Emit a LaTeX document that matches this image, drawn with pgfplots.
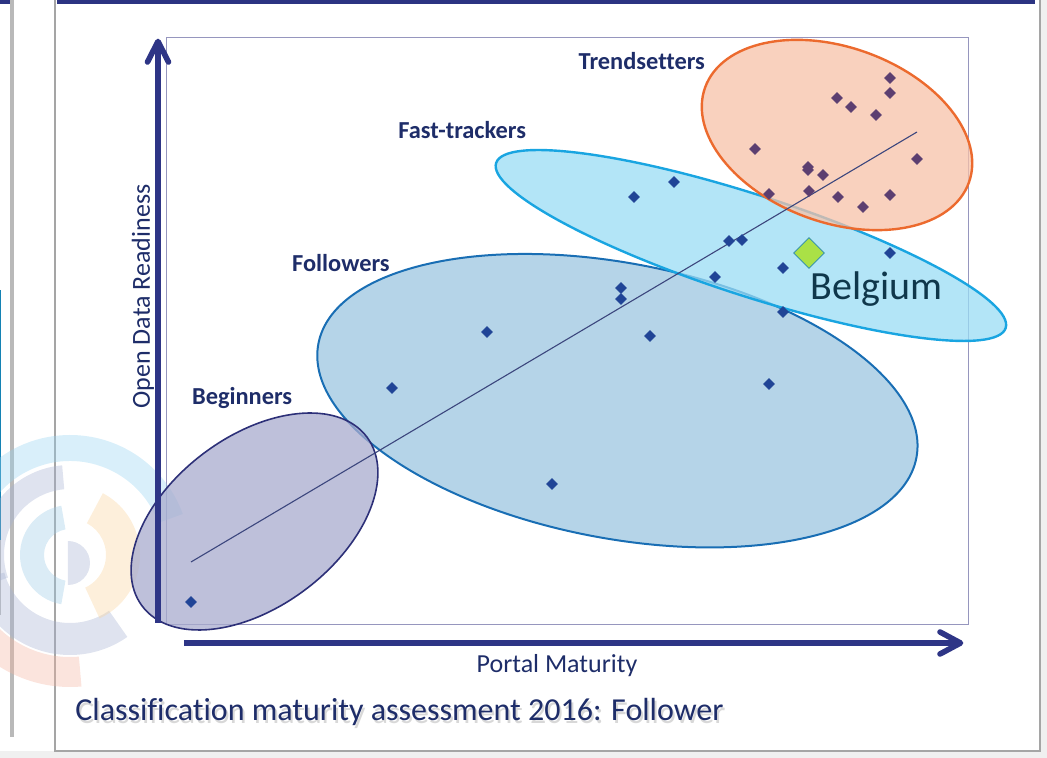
\documentclass[border=0pt]{standalone}
\usepackage{pgfplots}
\pgfplotsset{compat=1.18}
\usepackage{fontspec}
\setmainfont{Carlito}[RawFeature={-liga}]
\definecolor{navy}{RGB}{30,45,105}
\definecolor{arrowc}{RGB}{46,53,134}
\definecolor{boxc}{RGB}{150,150,190}
\definecolor{ptblue}{RGB}{32,68,150}
\definecolor{ptpurple}{RGB}{92,62,112}
\definecolor{begfill}{RGB}{168,171,206}
\definecolor{begedge}{RGB}{45,48,120}
\definecolor{folfill}{RGB}{156,198,224}
\definecolor{foledge}{RGB}{25,110,180}
\definecolor{fastfill}{RGB}{154,220,244}
\definecolor{fastedge}{RGB}{25,165,225}
\definecolor{trendfill}{RGB}{247,194,168}
\definecolor{trendedge}{RGB}{236,106,46}
\definecolor{regline}{RGB}{60,70,125}
\definecolor{belg}{RGB}{170,225,70}
\definecolor{belgedge}{RGB}{60,150,170}
\definecolor{belgtext}{RGB}{15,55,75}
\definecolor{topbar}{RGB}{44,52,130}
\definecolor{framec}{RGB}{165,165,165}
\definecolor{tealc}{RGB}{20,130,180}
\definecolor{lgblue}{RGB}{150,212,240}
\definecolor{lggray}{RGB}{165,178,210}
\definecolor{lgorange}{RGB}{250,212,155}
\definecolor{lgsalmon}{RGB}{245,180,160}
\begin{document}
\begin{tikzpicture}
\begin{axis}[
  x=0.5pt, y=0.5pt,
  xmin=0, xmax=801, ymin=0, ymax=587,
  axis line style={draw=boxc, line width=0.5pt},
  ticks=none,
  clip=false,
]
% ---- slide frame ----
\fill[gray!12] (873,-133) rectangle (880,625);
\fill[gray!12] (-167,-133) rectangle (880,-126);
\draw[framec, line width=1pt] (-112,630) -- (-112,-126) -- (873,-126) -- (873,630);
\draw[gray!55, line width=1.6pt] (-155,625) -- (-155,-112);
\fill[topbar] (-110,620.5) rectangle (868,626);
\fill[topbar] (-167,620.5) rectangle (-157,626);
\fill[tealc] (-167,85) rectangle (-165.5,335);
\draw[gray!50, line width=0.6pt] (-166.3,85) -- (-166.3,10);
% ---- faded logo ----
\begin{scope}[shift={(axis cs:-97,70)}, opacity=0.36]
  \fill[lgblue] (20:47pt) arc[start angle=20, end angle=185, radius=47pt] -- (185:60pt) arc[start angle=185, end angle=20, radius=60pt] -- cycle;
  \fill[lggray] (95:33pt) arc[start angle=95, end angle=200, radius=33pt] -- (200:45pt) arc[start angle=200, end angle=95, radius=45pt] -- cycle;
  \fill[lggray] (195:34pt) arc[start angle=195, end angle=305, radius=34pt] -- (305:50pt) arc[start angle=305, end angle=195, radius=50pt] -- cycle;
  \fill[lgsalmon] (205:51pt) arc[start angle=205, end angle=275, radius=51pt] -- (275:66pt) arc[start angle=275, end angle=205, radius=66pt] -- cycle;
  \fill[lgorange] (-65:18pt) arc[start angle=-65, end angle=62, radius=18pt] -- (62:35pt) arc[start angle=62, end angle=-65, radius=35pt] -- cycle;
  \fill[lgblue!70!lggray] (100:13pt) arc[start angle=100, end angle=260, radius=13pt] -- (260:25pt) arc[start angle=260, end angle=100, radius=25pt] -- cycle;
  \fill[lggray] (-1pt,-15pt) arc[start angle=-90, end angle=90, radius=11pt] -- cycle;
\end{scope}
% ---- cluster ellipses ----
\draw[foledge, line width=1pt, fill=folfill, fill opacity=0.75, rotate around={-10.8:(axis cs:450.4,224.3)}] (450.4,224.3) ellipse[x radius=152.2pt, y radius=68.8pt];
\draw[begedge, line width=0.8pt, fill=begfill, fill opacity=0.75, rotate around={37:(axis cs:87.5,103.5)}] (87.5,103.5) ellipse[x radius=70.3pt, y radius=42.5pt];
\draw[fastedge, line width=1.2pt, fill=fastfill, fill opacity=0.75, rotate around={-17.95:(axis cs:583.9,379.5)}] (583.9,379.5) ellipse[x radius=133.9pt, y radius=25.2pt];
\draw[trendedge, line width=1.2pt, fill=trendfill, fill opacity=0.75, rotate around={-19.8:(axis cs:670,490)}] (670,490) ellipse[x radius=70.1pt, y radius=43.8pt];
% ---- trend line ----
\addplot[regline, line width=0.55pt, no marks] coordinates {(24,63) (750,493)};
% ---- Trendsetters ----
\addplot[only marks, mark=square*, mark size=1.85pt, mark options={rotate=45, fill=ptpurple, draw=ptpurple}] coordinates {
(723,547) (723,532) (670,527) (684,518) (709,510) (588,476) (750,466)
(641,458) (641,455) (656,450) (602,431) (642,434) (671,428) (696,418) (723,430)};
% ---- Fast-trackers ----
\addplot[only marks, mark=square*, mark size=1.85pt, mark options={rotate=45, fill=ptblue, draw=ptblue}] coordinates {
(507,443) (467,428) (562,384) (575,385) (616,357) (723,372) (548,348)};
% ---- Followers ----
\addplot[only marks, mark=square*, mark size=1.85pt, mark options={rotate=45, fill=ptblue, draw=ptblue}] coordinates {
(454,337) (454,326) (616,313) (483,289) (320,293) (225,237) (602,241) (385,141)};
% ---- Beginners ----
\addplot[only marks, mark=square*, mark size=1.85pt, mark options={rotate=45, fill=ptblue, draw=ptblue}] coordinates {(24,23)};
% ---- Belgium ----
\addplot[only marks, mark=square*, mark size=5.4pt, mark options={rotate=45, fill=belg, draw=belgedge, line width=0.4pt}] coordinates {(642,372)};
\node[anchor=base, text=belgtext, font=\fontsize{20}{24}\selectfont, inner sep=0pt] at (709.7,325) {Belgium};
% ---- group labels ----
\node[anchor=base west, text=navy, font=\fontsize{12.2}{14}\selectfont\bfseries, inner sep=0pt] at (411.3,555.7) {Trendsetters};
\node[anchor=base west, text=navy, font=\fontsize{12.2}{14}\selectfont\bfseries, inner sep=0pt] at (231,486) {Fast-trackers};
\node[anchor=base east, text=navy, font=\fontsize{12.2}{14}\selectfont\bfseries, inner sep=0pt] at (223,353) {Followers};
\node[anchor=base west, text=navy, font=\fontsize{12.2}{14}\selectfont\bfseries, inner sep=0pt] at (24.7,220) {Beginners};
% ---- axis arrows ----
\draw[arrowc, line width=2.8pt, line cap=butt] (-9,2) -- (-9,580);
\draw[arrowc, line width=2.8pt, line cap=round, line join=round] (-19.5,563) -- (-9,583.5) -- (1.5,563);
\draw[arrowc, line width=2.8pt, line cap=butt] (17,-18) -- (790,-18);
\draw[arrowc, line width=2.8pt, line cap=round, line join=round] (773,-7) -- (793.5,-18) -- (773,-29);
\node[anchor=base, text=navy, font=\fontsize{13}{15}\selectfont, inner sep=0pt] at (390,-48) {Portal Maturity};
\node[rotate=90, text=navy, font=\fontsize{13}{15}\selectfont, inner sep=0pt] at (-24,328.5) {Open Data Readiness};
% ---- caption ----
\node[anchor=base west, text=gray!60, opacity=0.5, font=\fontsize{16}{19}\selectfont, inner sep=0pt] at (-90,-98.5) {Classification maturity assessment 2016: Follower};
\node[anchor=base west, text=navy, font=\fontsize{16}{19}\selectfont, inner sep=0pt] at (-92,-96) {Classification maturity assessment 2016: Follower};
\coordinate (BL) at (axis cs:-167,-133);
\coordinate (TR) at (axis cs:880,625);
\end{axis}
\pgfresetboundingbox
\path[use as bounding box] (BL) rectangle (TR);
\end{tikzpicture}
\end{document}
